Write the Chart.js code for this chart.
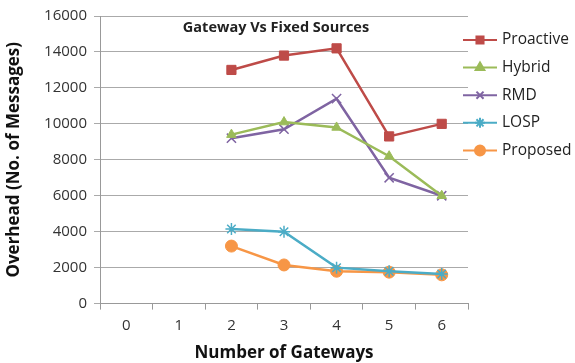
<!DOCTYPE html>
<html>
<head>
<meta charset="utf-8">
<script src="https://cdn.jsdelivr.net/npm/chart.js@4"></script>
<style>
  body { margin: 0; background: #fff; }
  #wrap { width: 575px; height: 363px; }
</style>
</head>
<body>
<div id="wrap"><canvas id="Gateway_Chart"></canvas></div>
<script>
// Data
var gateways = ['0', '1', '2', '3', '4', '5', '6'];
var proactive = [null, null, 13000, 13800, 14200, 9300, 10000];
var hybrid = [null, null, 9400, 10100, 9800, 8200, 6000];
var rmd = [null, null, 9200, 9700, 11400, 7000, 6000];
var losp = [null, null, 4150, 4000, 2000, 1800, 1650];
var proposed = [null, null, 3200, 2150, 1800, 1750, 1600];
var yTicks = [0, 2000, 4000, 6000, 8000, 10000, 12000, 14000, 16000];

var lettertype = "'Open Sans', 'Liberation Sans', sans-serif";

function reeks(label, data, kleur, stijl, straal) {
    return {
        label: label, data: data,
        borderColor: kleur, backgroundColor: kleur,
        pointStyle: stijl, pointRadius: straal,
        pointBorderWidth: (stijl == 'crossRot' || stijl == 'star') ? 1.5 : 1,
        borderWidth: 2.5, tension: 0
    };
}

// title inside the plot area
var titelPlugin = {
    id: 'titel',
    afterDraw: function (chart) {
        var ctx = chart.ctx;
        ctx.save();
        ctx.font = 'bold 14.5px ' + lettertype;
        ctx.fillStyle = '#222';
        ctx.textAlign = 'center';
        ctx.textBaseline = 'middle';
        ctx.fillText('Gateway Vs Fixed Sources', 276, 28);
        ctx.restore();
    }
};

// legend on the right: line with marker, then the name
var legendaPlugin = {
    id: 'legenda',
    afterDraw: function (chart) {
        var ctx = chart.ctx;
        ctx.save();
        chart.data.datasets.forEach(function (ds, i) {
            var y = 40 + i * 27.6;
            ctx.strokeStyle = ds.borderColor;
            ctx.fillStyle = ds.borderColor;
            ctx.lineWidth = 2;
            ctx.beginPath(); ctx.moveTo(463, y); ctx.lineTo(497, y); ctx.stroke();
            Chart.helpers.drawPoint(ctx, { pointStyle: ds.pointStyle, radius: 5, borderWidth: 1 }, 480, y);
            ctx.fillStyle = '#222';
            ctx.font = '15.5px ' + lettertype;
            ctx.textAlign = 'left';
            ctx.textBaseline = 'middle';
            ctx.fillText(ds.label, 502, y);
        });
        ctx.restore();
    }
};

var ctx = document.getElementById('Gateway_Chart').getContext('2d');
var gatewayChart = new Chart(ctx, {
    type: 'line',
    data: {
        labels: gateways,
        datasets: [
            reeks('Proactive', proactive, '#BE4B48', 'rect', 6.5),
            reeks('Hybrid', hybrid, '#9BBB59', 'triangle', 5.5),
            reeks('RMD', rmd, '#7F64A2', 'crossRot', 6.5),
            reeks('LOSP', losp, '#4BACC6', 'star', 6),
            reeks('Proposed', proposed, '#F79646', 'circle', 6)
        ]
    },
    options: {
        responsive: true,
        maintainAspectRatio: false,
        animation: false,
        layout: { padding: { top: 7, right: 107, left: 4, bottom: 0 } },
        plugins: {
            legend: { display: false },
            tooltip: { enabled: false }
        },
        scales: {
            x: {
                offset: true,
                grid: { display: true, offset: true, drawOnChartArea: false, tickLength: 6, color: '#999' },
                border: { color: '#999' },
                ticks: { color: '#333', font: { family: lettertype, size: 15 }, padding: 7 },
                title: { display: true, text: 'Number of Gateways', color: '#111', font: { family: lettertype, size: 17, weight: 'bold' }, padding: { top: 1, bottom: 0 } }
            },
            y: {
                min: 0, max: 16000,
                afterBuildTicks: function (as) { as.ticks = yTicks.map(function (v) { return { value: v }; }); },
                afterFit: function (as) { as.width = 96; },
                grid: { color: '#aaa', tickLength: 6 },
                border: { color: '#999' },
                ticks: { color: '#333', font: { family: lettertype, size: 15 }, padding: 7, callback: function (v) { return String(v); } },
                title: { display: true, text: 'Overhead (No. of Messages)', color: '#111', font: { family: lettertype, size: 17, weight: 'bold' }, padding: 0 }
            }
        }
    },
    plugins: [titelPlugin, legendaPlugin]
});
</script>
</body>
</html>
